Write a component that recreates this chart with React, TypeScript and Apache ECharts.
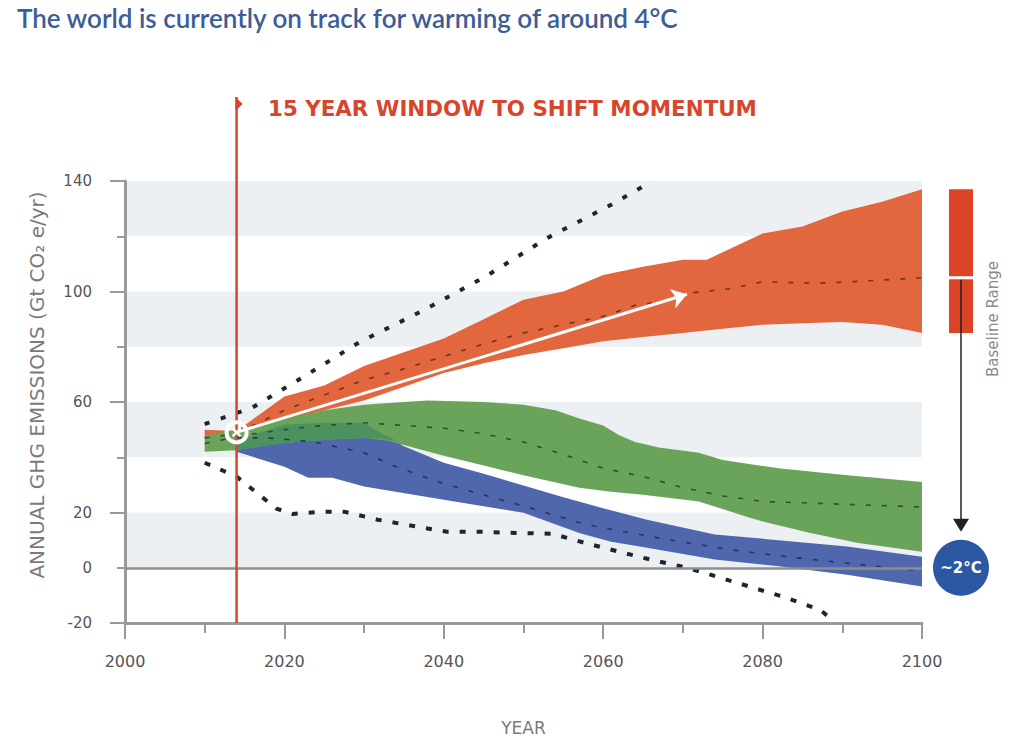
import React, { useEffect, useRef } from 'react';
import * as echarts from 'echarts';

// ---- texts ----
const titleText = 'The world is currently on track for warming of around 4°C';
const windowText = '15 YEAR WINDOW TO SHIFT MOMENTUM';
const yAxisTitle = 'ANNUAL GHG EMISSIONS (Gt CO₂ e/yr)';
const xAxisTitle = 'YEAR';
const baselineText = 'Baseline Range';
const targetText = '~2°C';

// ---- axes ----
const xMin = 2000;
const xMax = 2100;
const yMin = -20;
const yMax = 140;
const yLabelled = [-20, 0, 20, 60, 100, 140];

// ---- baseline (orange) band ----
const orangeUpperYears = [2010, 2014, 2020, 2025, 2030, 2035, 2040, 2045, 2050, 2055, 2060, 2065, 2070, 2073, 2080, 2085, 2090, 2095, 2100];
const orangeUpper = [50, 49.5, 62, 66, 73, 78, 83, 90, 97, 100, 106, 109, 111.5, 111.5, 121, 123.5, 129, 132.5, 137];
const orangeLowerYears = [2010, 2014, 2020, 2025, 2030, 2035, 2040, 2045, 2050, 2055, 2060, 2065, 2070, 2075, 2080, 2085, 2090, 2095, 2100];
const orangeLower = [47, 48, 53.5, 57, 60.5, 65.5, 70.5, 74, 77, 79.5, 82, 83.5, 85, 86.5, 88, 88.5, 89, 88, 85];
const orangeMedianYears = [2010, 2014, 2020, 2025, 2030, 2035, 2040, 2045, 2050, 2055, 2060, 2064, 2068, 2071, 2076, 2080, 2087, 2091, 2100];
const orangeMedian = [47, 48.5, 57, 62.5, 68, 72, 76.5, 81, 85, 88, 91, 95, 96.5, 99.5, 101, 103.5, 103, 103.5, 105];

// ---- middle (green) band ----
const greenUpperYears = [2010, 2014, 2020, 2025, 2030, 2035, 2038, 2045, 2050, 2054, 2057, 2060, 2062, 2064, 2067, 2072, 2075, 2082, 2090, 2100];
const greenUpper = [48, 50, 54, 57, 59, 60, 60.5, 60, 59, 57, 54, 51.5, 48, 45.5, 43.5, 41.6, 39, 36, 33.7, 31];
const greenLowerYears = [2010, 2014, 2017, 2020, 2025, 2030, 2033, 2040, 2045, 2050, 2057, 2061, 2065, 2072, 2078, 2080, 2086, 2092, 2100];
const greenLower = [42, 42.5, 44, 45.2, 46.3, 47, 46, 40.5, 37, 33.5, 29, 27.5, 26.4, 24, 18.5, 16.7, 12.6, 9, 5.8];
const greenMedianYears = [2010, 2015, 2020, 2025, 2030, 2035, 2040, 2045, 2050, 2055, 2060, 2065, 2070, 2075, 2080, 2090, 2100];
const greenMedian = [45, 48, 50, 51.5, 52.5, 51.5, 50.5, 48.5, 45.5, 41, 36, 33, 29, 26, 24, 23, 22];

// ---- 2°C (blue) band ----
const blueUpperYears = [2014, 2017, 2020, 2025, 2030, 2032, 2035, 2040, 2045, 2050, 2055, 2060, 2065.5, 2074, 2082, 2090.6, 2100];
const blueUpper = [45, 49, 51.8, 52.5, 52.5, 49, 44, 38, 34, 29.8, 25.5, 21.5, 17.4, 12, 10, 7.7, 4];
const blueLowerYears = [2014, 2020, 2023, 2026, 2030, 2040, 2050, 2057, 2061, 2065.5, 2074, 2082, 2090.6, 2100];
const blueLower = [42, 36.6, 32.6, 32.6, 29.4, 24.6, 19.9, 12.6, 9.4, 7.2, 3, 0.5, -2.5, -6.8];
const blueMedianYears = [2014, 2018, 2023.6, 2030, 2034, 2040, 2046.7, 2050.8, 2057, 2059, 2067.5, 2076, 2083, 2090, 2098.5, 2100];
const blueMedian = [47, 47, 45.6, 41.6, 36.6, 30.4, 25, 21.7, 16.3, 15, 10.5, 6.5, 4, 1.8, -0.7, -1];

// ---- overlap of green and blue bands ----
const overlapUpperYears = [2014, 2017, 2020, 2025, 2030, 2032, 2034];
const overlapUpper = [45, 49, 51.8, 52.5, 52.5, 49, 46];
const overlapLowerYears = [2014, 2017, 2020, 2025, 2030, 2032, 2034];
const overlapLower = [42.5, 44, 45.2, 46.3, 47, 46.8, 46];

// ---- outer dotted envelopes ----
const upperEnvYears = [2010, 2016, 2022, 2029.5, 2037.6, 2045.4, 2053, 2061, 2065];
const upperEnv = [52, 58, 68.4, 81.8, 93.4, 105.7, 119.4, 131.4, 138];
const lowerEnvYears = [2010, 2014, 2019, 2021, 2025, 2027.5, 2031.7, 2036, 2040.4, 2045, 2049, 2053.6, 2057.7, 2062, 2066, 2070.5, 2074.7, 2078.8, 2083, 2087.2, 2089];
const lowerEnv = [38, 33, 21.4, 19.5, 20.3, 20.3, 17.4, 15.2, 13, 13, 12.6, 12.3, 9, 5.8, 2.9, 0, -3.6, -7.2, -10.9, -15.2, -19.5];

// ---- annotations ----
const windowStartYear = 2014;
const currentPoint = [2014, 49];
const trendArrowEnd = [2070.5, 99];
const baselineRange = [85, 137];
const baselineMedian2100 = 105;
const targetLevel = 0;

const zip = (xs: number[], ys: number[]) => xs.map((x, i) => [x, ys[i]]);

function band(name: string, ux: number[], uy: number[], lx: number[], ly: number[], color: string) {
  return {
    type: 'custom',
    name,
    silent: true,
    clip: true,
    xAxisIndex: 0,
    yAxisIndex: 0,
    data: [[ux[0], uy[0]]],
    renderItem: (_p: any, api: any) => {
      const pts: number[][] = [];
      ux.forEach((x, i) => pts.push(api.coord([x, uy[i]])));
      for (let i = lx.length - 1; i >= 0; i--) pts.push(api.coord([lx[i], ly[i]]));
      return { type: 'polygon', shape: { points: pts }, style: { fill: color } };
    },
  };
}

function line(name: string, xs: number[], ys: number[], color: string, width: number, dash: number[], opacity = 1) {
  return {
    type: 'line',
    name,
    silent: true,
    xAxisIndex: 0,
    yAxisIndex: 0,
    data: zip(xs, ys),
    showSymbol: false,
    symbol: 'none',
    z: 4,
    lineStyle: { color, width, type: dash, opacity, cap: 'butt' },
  };
}

const labelFont = '"DejaVu Sans", sans-serif';

export default function App() {
  const ref = useRef<HTMLDivElement>(null);
  useEffect(() => {
    if (!ref.current) return;
    const chart = echarts.init(ref.current, undefined, { renderer: 'svg' });
    const axisGray = '#9a9a9a';
    chart.setOption({
      animation: false,
      grid: { left: 125, top: 181, right: 92, bottom: 125, containLabel: false },
      xAxis: [
        {
          type: 'value', min: xMin, max: xMax, interval: 20, position: 'bottom',
          name: xAxisTitle, nameLocation: 'middle', nameGap: 96,
          nameTextStyle: { color: '#7a7a7a', fontSize: 17, fontFamily: labelFont },
          axisLine: { show: true, onZero: false, lineStyle: { color: axisGray, width: 3 } },
          axisTick: { show: true, length: 16, lineStyle: { color: axisGray, width: 2 } },
          axisLabel: { margin: 30, color: '#555', fontSize: 16, fontFamily: labelFont, formatter: (v: number) => String(v) },
          splitLine: { show: false },
        },
        {
          type: 'value', min: xMin, max: xMax, interval: 10, position: 'bottom',
          axisLine: { show: false, onZero: false },
          axisTick: { show: true, length: 10, lineStyle: { color: axisGray, width: 2 } },
          axisLabel: { show: false },
          splitLine: { show: false },
        },
      ],
      yAxis: [
        {
          type: 'value', min: yMin, max: yMax, interval: 40, position: 'left',
          axisLine: { show: true, onZero: false, lineStyle: { color: axisGray, width: 3 } },
          axisTick: { show: true, length: 15, lineStyle: { color: axisGray, width: 2 } },
          axisLabel: {
            margin: 33, color: '#555', fontSize: 15, fontFamily: labelFont,
            formatter: (v: number) => (yLabelled.includes(v) ? String(v) : ''),
          },
          splitLine: { show: false },
        },
        {
          type: 'value', min: yMin, max: yMax, interval: 20, position: 'left',
          axisLine: { show: false, onZero: false },
          axisTick: { show: true, length: 8, lineStyle: { color: axisGray, width: 2 } },
          axisLabel: {
            margin: 33, color: '#555', fontSize: 15, fontFamily: labelFont,
            formatter: (v: number) => (v === 0 ? '0' : ''),
          },
          splitLine: { show: false },
          splitArea: { show: true, areaStyle: { color: ['rgba(0,0,0,0)', '#ecf0f3'] } },
        },
      ],
      series: [
        band('Baseline', orangeUpperYears, orangeUpper, orangeLowerYears, orangeLower, '#e2673e'),
        band('2°C', blueUpperYears, blueUpper, blueLowerYears, blueLower, '#5067ad'),
        band('Middle', greenUpperYears, greenUpper, greenLowerYears, greenLower, '#6aa45a'),
        band('Overlap', overlapUpperYears, overlapUpper, overlapLowerYears, overlapLower, '#4b925f'),
        {
          type: 'line', name: 'zero', silent: true, data: [], xAxisIndex: 0, yAxisIndex: 0, z: 5,
          markLine: {
            silent: true, symbol: 'none', label: { show: false },
            lineStyle: { color: '#8e8e8e', width: 2.5, type: 'solid' },
            data: [{ yAxis: targetLevel }],
          },
        },
        line('Baseline median', orangeMedianYears, orangeMedian, '#5a2a1e', 1.6, [5, 11], 0.85),
        line('Middle median', greenMedianYears, greenMedian, '#23402a', 1.6, [5, 11], 0.85),
        line('2°C median', blueMedianYears, blueMedian, '#1d2a55', 1.6, [5, 11], 0.85),
        line('Upper envelope', upperEnvYears, upperEnv, '#1f2430', 4, [5, 12]),
        line('Lower envelope', lowerEnvYears, lowerEnv, '#1f2430', 4, [6, 11]),
        {
          type: 'line', name: 'trend', silent: true, data: [], xAxisIndex: 0, yAxisIndex: 0, z: 6,
          markLine: {
            silent: true, symbol: ['none', 'arrow'], symbolSize: 15, label: { show: false },
            lineStyle: { color: '#ffffff', width: 3, type: 'solid' },
            data: [[{ coord: currentPoint }, { coord: trendArrowEnd }]],
          },
        },
      ],
    });

    const px = (x: number, y: number) => chart.convertToPixel({ xAxisIndex: 0, yAxisIndex: 0 }, [x, y]) as number[];
    const [wx] = px(windowStartYear, 0);
    const [, yBottom] = px(windowStartYear, yMin);
    const [cx, cy] = px(currentPoint[0], currentPoint[1]);
    const [, bTop] = px(2100, baselineRange[1]);
    const [, bBot] = px(2100, baselineRange[0]);
    const [, bMed] = px(2100, baselineMedian2100);
    const [, tY] = px(2100, targetLevel);
    const red = '#d9452b';
    const barX = 949;
    const barW = 24;
    const ax = barX + barW / 2;

    chart.setOption({
      graphic: [
        {
          type: 'text', left: 17, top: 5, z: 20,
          style: { text: titleText, fill: '#3c5d98', fontSize: 26, fontWeight: 600, fontFamily: 'Lato, sans-serif' },
        },
        {
          type: 'text', x: 37, y: 385, rotation: Math.PI / 2, z: 20,
          style: { text: yAxisTitle, fill: '#7a7a7a', fontSize: 20, fontFamily: labelFont, align: 'center', verticalAlign: 'middle' },
        },
        {
          type: 'line', z: 10, silent: true,
          shape: { x1: wx, y1: 97, x2: wx, y2: yBottom },
          style: { stroke: red, lineWidth: 2.5 },
        },
        {
          type: 'polygon', z: 10, silent: true,
          shape: { points: [[wx - 1, 97], [wx + 6, 104], [wx - 1, 111]] },
          style: { fill: red },
        },
        {
          type: 'text', x: 268, y: 108, z: 20,
          style: { text: windowText, fill: red, fontSize: 21.4, fontWeight: 'bold', fontFamily: '"DejaVu Sans", sans-serif', verticalAlign: 'middle' },
        },
        {
          type: 'circle', z: 12, silent: true,
          shape: { cx, cy, r: 10 },
          style: { fill: 'rgba(0,0,0,0)', stroke: '#ffffff', lineWidth: 4 },
        },
        {
          type: 'line', z: 13, silent: true,
          shape: { x1: cx - 4, y1: cy - 4, x2: cx + 4, y2: cy + 4 },
          style: { stroke: '#ffffff', lineWidth: 2.5 },
        },
        {
          type: 'line', z: 13, silent: true,
          shape: { x1: cx - 4, y1: cy + 4, x2: cx + 4, y2: cy - 4 },
          style: { stroke: '#ffffff', lineWidth: 2.5 },
        },
        {
          type: 'rect', z: 10, silent: true,
          shape: { x: barX, y: bTop, width: barW, height: bMed - 1.5 - bTop },
          style: { fill: '#db4426' },
        },
        {
          type: 'rect', z: 10, silent: true,
          shape: { x: barX, y: bMed + 1.5, width: barW, height: bBot - bMed - 1.5 },
          style: { fill: '#db4426' },
        },
        {
          type: 'line', z: 11, silent: true,
          shape: { x1: ax, y1: bMed + 2, x2: ax, y2: tY - 40 },
          style: { stroke: '#222', lineWidth: 1.5 },
        },
        {
          type: 'polygon', z: 11, silent: true,
          shape: { points: [[ax - 8, tY - 49], [ax + 8, tY - 49], [ax, tY - 36]] },
          style: { fill: '#222' },
        },
        {
          type: 'text', x: 993, y: 319, rotation: Math.PI / 2, z: 20,
          style: { text: baselineText, fill: '#8a8a8a', fontSize: 15, fontFamily: labelFont, align: 'center', verticalAlign: 'middle' },
        },
        {
          type: 'circle', z: 11, silent: true,
          shape: { cx: ax, cy: tY, r: 28 },
          style: { fill: '#2c57a2' },
        },
        {
          type: 'text', x: ax, y: tY, z: 20,
          style: { text: targetText, fill: '#ffffff', fontSize: 15, fontWeight: 'bold', fontFamily: labelFont, align: 'center', verticalAlign: 'middle' },
        },
      ],
    });

    return () => chart.dispose();
  }, []);
  return <div ref={ref} style={{ position: 'absolute', left: 0, top: 0, width: 1014, height: 748 }} />;
}
